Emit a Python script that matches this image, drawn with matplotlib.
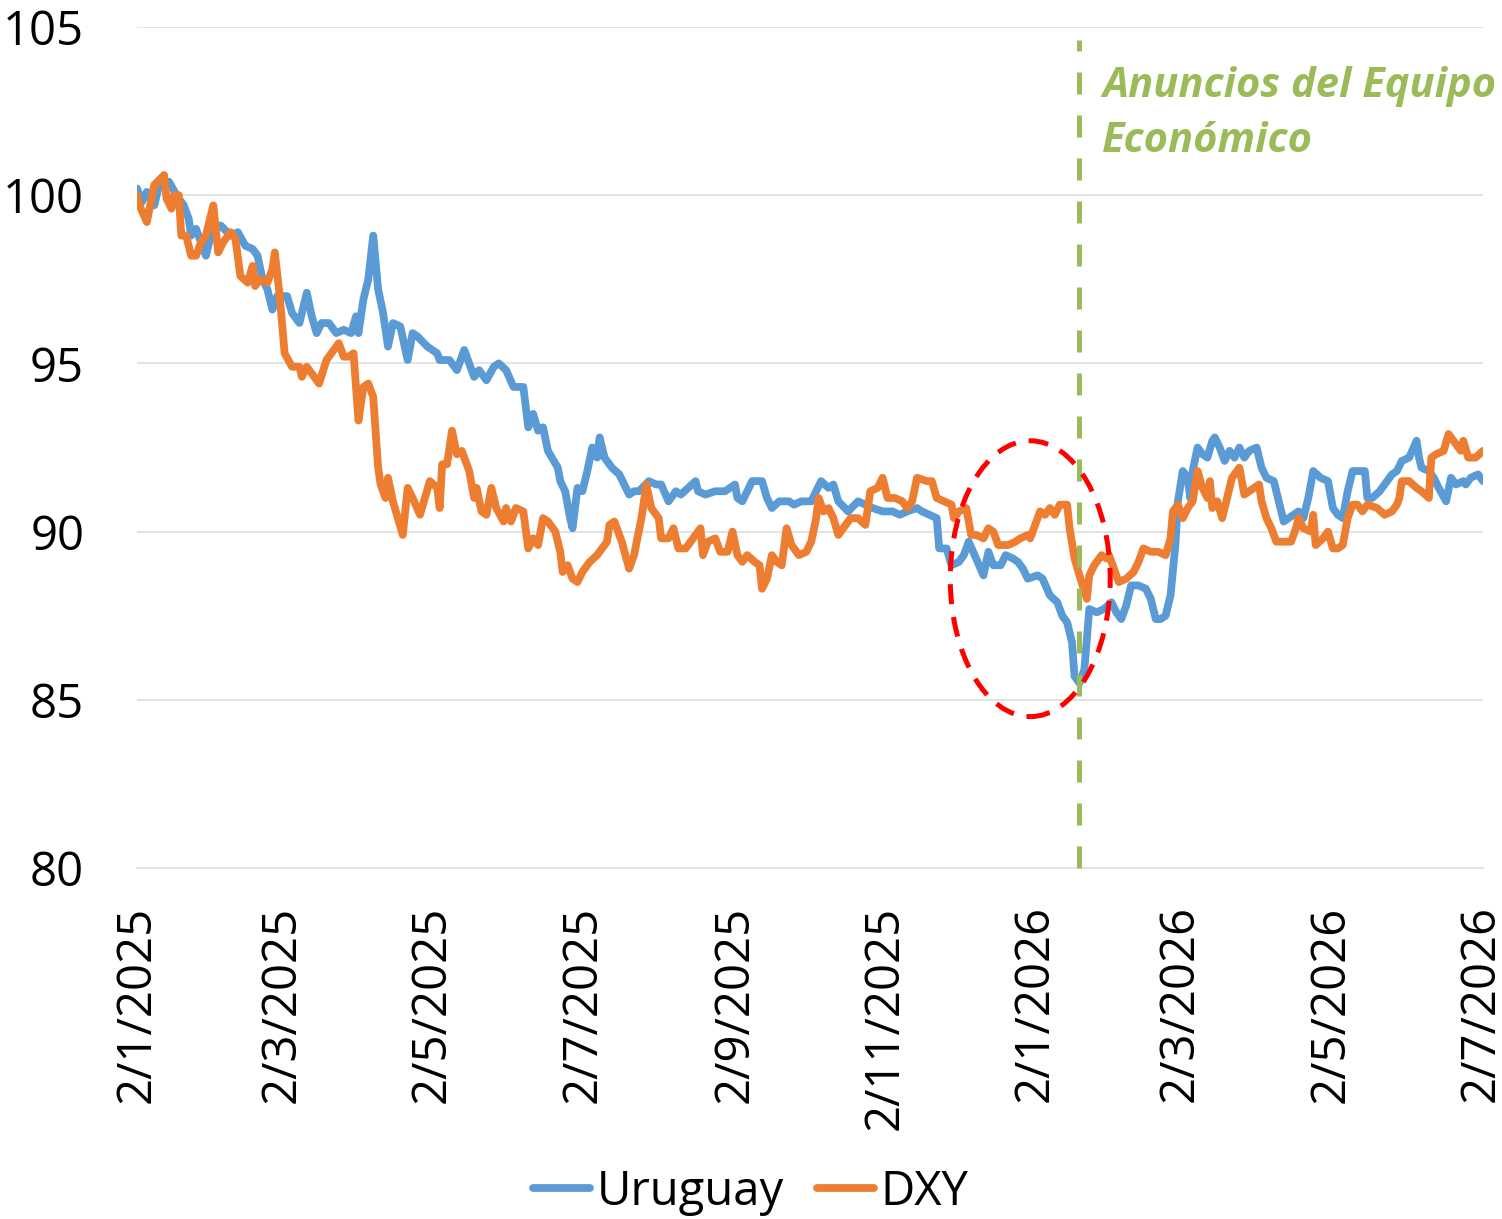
import matplotlib
matplotlib.use('Agg')
import matplotlib.pyplot as plt
import matplotlib.dates as mdates
from matplotlib.patches import Ellipse
import pandas as pd

plt.rcParams['font.family'] = ['Open Sans', 'DejaVu Sans']

# ---------------- data ----------------
start_date = '2025-01-02'   # day 0 of the series

uy_day = [0, 2, 4, 7, 9, 13, 16, 19, 21, 22, 24, 26, 28, 30, 34, 38, 41, 44, 47, 49,
          51, 53, 55, 57, 61, 63, 66, 69, 71, 73, 75, 78, 81, 84, 87, 89, 90, 92, 94, 96,
          98, 100, 102, 104, 107, 110, 112, 114, 118, 122, 123, 127, 130, 133, 137, 139, 142, 145, 147, 150,
          153, 157, 159, 161, 163, 165, 167, 171, 172, 174, 176, 177, 179, 181, 183, 185, 187, 188, 190, 193,
          196, 198, 200, 202, 204, 208, 211, 213, 216, 219, 221, 224, 227, 228, 231, 235, 239, 241, 243, 244,
          246, 248, 250, 254, 256, 258, 261, 265, 267, 270, 274, 276, 278, 281, 283, 285, 289, 293, 296, 299,
          303, 307, 310, 313, 317, 319, 322, 325, 326, 329, 331, 334, 336, 338, 341, 344, 346, 348, 351, 353,
          356, 358, 360, 362, 366, 368, 371, 374, 376, 378, 380, 381, 383, 385, 386, 387, 390, 393, 396, 398,
          400, 402, 404, 407, 410, 412, 414, 416, 418, 420, 422, 423, 425, 427, 428, 429, 431, 433, 435, 437,
          438, 440, 442, 444, 446, 448, 450, 452, 455, 457, 459, 462, 464, 466, 468, 470, 472, 474, 476, 478,
          481, 484, 486, 488, 490, 492, 494, 497, 499, 500, 502, 505, 508, 510, 512, 514, 517, 520, 521, 522,
          525, 527, 529, 532, 534, 536, 539, 540, 542, 545, 547]
uy_val = [100.2, 99.8, 100.1, 99.7, 100.3, 100.4, 100.0, 99.7, 99.3, 98.8, 99.0, 98.6, 98.2, 98.8, 99.1, 98.8, 98.9, 98.5, 98.4, 98.2,
          97.5, 97.2, 96.6, 97.0, 97.0, 96.5, 96.2, 97.1, 96.4, 95.9, 96.2, 96.2, 95.9, 96.0, 95.9, 96.4, 95.9, 96.9, 97.5, 98.8,
          97.2, 96.5, 95.5, 96.2, 96.1, 95.1, 95.9, 95.8, 95.5, 95.3, 95.1, 95.1, 94.8, 95.4, 94.6, 94.8, 94.5, 94.9, 95.0, 94.8,
          94.3, 94.3, 93.1, 93.5, 93.0, 93.1, 92.4, 91.9, 91.5, 91.2, 90.4, 90.1, 91.3, 91.2, 91.8, 92.5, 92.2, 92.8, 92.2, 91.9,
          91.7, 91.4, 91.1, 91.2, 91.2, 91.5, 91.4, 91.4, 90.9, 91.2, 91.1, 91.3, 91.5, 91.2, 91.1, 91.2, 91.2, 91.3, 91.4, 91.0,
          90.9, 91.2, 91.5, 91.5, 91.0, 90.7, 90.9, 90.9, 90.8, 90.9, 90.9, 91.2, 91.5, 91.3, 91.4, 90.9, 90.6, 90.9, 90.8, 90.7,
          90.6, 90.6, 90.5, 90.6, 90.7, 90.6, 90.5, 90.4, 89.5, 89.5, 89.0, 89.1, 89.3, 89.7, 89.2, 88.7, 89.4, 89.0, 89.0, 89.3,
          89.2, 89.1, 88.9, 88.6, 88.7, 88.6, 88.1, 87.9, 87.5, 87.3, 86.7, 85.7, 85.5, 85.9, 86.8, 87.7, 87.6, 87.7, 87.9, 87.6,
          87.4, 87.8, 88.4, 88.4, 88.3, 88.0, 87.4, 87.4, 87.5, 88.1, 89.6, 90.9, 91.8, 91.6, 91.0, 91.8, 92.5, 92.3, 92.2, 92.7,
          92.8, 92.5, 92.1, 92.4, 92.2, 92.5, 92.2, 92.4, 92.5, 91.9, 91.6, 91.5, 90.9, 90.3, 90.4, 90.5, 90.6, 90.4, 91.0, 91.8,
          91.6, 91.5, 90.7, 90.5, 90.4, 91.2, 91.8, 91.8, 91.8, 91.0, 91.0, 91.2, 91.5, 91.7, 91.8, 92.1, 92.2, 92.7, 92.2, 91.9,
          91.8, 91.6, 91.3, 90.9, 91.6, 91.4, 91.5, 91.4, 91.6, 91.7, 91.5]

dxy_day = [0, 1, 4, 7, 11, 12, 14, 15, 17, 18, 20, 22, 24, 26, 28, 29, 31, 33, 35, 38,
           40, 42, 45, 47, 48, 50, 53, 55, 56, 58, 60, 63, 66, 67, 69, 72, 74, 77, 79, 82,
           84, 86, 88, 90, 92, 94, 96, 98, 99, 101, 102, 104, 106, 108, 110, 112, 115, 119, 122, 123,
           124, 126, 128, 130, 132, 135, 137, 138, 140, 142, 144, 146, 149, 150, 152, 154, 157, 159, 161, 163,
           165, 167, 170, 172, 173, 175, 177, 179, 181, 184, 187, 189, 191, 192, 194, 197, 200, 202, 205, 207,
           209, 212, 213, 216, 218, 220, 223, 226, 229, 230, 232, 235, 237, 240, 242, 244, 246, 248, 251, 253,
           254, 256, 258, 260, 262, 264, 266, 269, 272, 274, 276, 277, 279, 281, 283, 285, 287, 290, 293, 296,
           298, 301, 303, 305, 308, 311, 313, 315, 317, 321, 323, 325, 328, 331, 332, 334, 337, 339, 341, 344,
           346, 348, 350, 354, 357, 359, 362, 363, 365, 367, 369, 371, 373, 375, 378, 379, 381, 383, 386, 387,
           389, 392, 394, 395, 397, 399, 402, 405, 407, 409, 412, 415, 418, 420, 421, 423, 425, 427, 429, 431,
           433, 435, 436, 437, 439, 441, 443, 445, 448, 450, 452, 456, 457, 459, 461, 463, 466, 469, 471, 472,
           474, 477, 478, 479, 482, 484, 486, 488, 490, 492, 494, 496, 498, 500, 504, 507, 510, 512, 513, 514,
           517, 520, 522, 525, 526, 528, 531, 533, 536, 538, 539, 541, 544, 547]
dxy_val = [100.0, 99.7, 99.2, 100.3, 100.6, 99.9, 99.6, 100.0, 100.0, 98.8, 98.8, 98.2, 98.2, 98.6, 98.8, 99.1, 99.7, 98.3, 98.6, 98.9,
           98.7, 97.6, 97.4, 97.9, 97.3, 97.5, 97.4, 97.8, 98.3, 97.0, 95.3, 94.9, 94.9, 94.6, 94.9, 94.6, 94.4, 95.1, 95.3, 95.6,
           95.2, 95.2, 95.3, 93.3, 94.3, 94.4, 94.0, 91.9, 91.4, 91.0, 91.6, 90.9, 90.4, 89.9, 91.3, 91.0, 90.5, 91.5, 91.3, 90.7,
           92.0, 92.0, 93.0, 92.3, 92.4, 91.8, 91.0, 91.3, 90.6, 90.5, 91.3, 90.7, 90.3, 90.7, 90.3, 90.7, 90.6, 89.5, 89.8, 89.6,
           90.4, 90.3, 90.0, 89.4, 88.8, 89.0, 88.6, 88.5, 88.8, 89.1, 89.3, 89.5, 89.7, 90.2, 90.3, 89.7, 88.9, 89.3, 90.4, 91.4,
           90.7, 90.4, 89.8, 89.8, 90.1, 89.5, 89.5, 89.8, 90.1, 89.3, 89.7, 89.8, 89.4, 89.4, 90.0, 89.3, 89.1, 89.3, 89.1, 89.0,
           88.3, 88.6, 89.3, 89.1, 89.0, 90.1, 89.6, 89.3, 89.4, 89.7, 90.4, 91.0, 90.6, 90.7, 90.4, 89.9, 90.1, 90.4, 90.4, 90.2,
           91.2, 91.3, 91.6, 91.0, 91.0, 90.9, 90.7, 90.9, 91.6, 91.5, 91.5, 91.0, 90.9, 90.8, 90.4, 90.6, 90.7, 89.9, 89.9, 89.8,
           90.1, 90.0, 89.6, 89.6, 89.7, 89.8, 89.9, 89.8, 90.2, 90.6, 90.5, 90.7, 90.5, 90.8, 90.8, 90.1, 89.2, 88.7, 88.0, 88.7,
           89.0, 89.3, 89.2, 89.3, 88.9, 88.5, 88.6, 88.8, 89.1, 89.5, 89.4, 89.4, 89.3, 89.8, 90.6, 90.8, 90.4, 90.7, 90.9, 91.8,
           91.3, 91.0, 91.5, 90.7, 90.9, 90.4, 91.0, 91.6, 91.9, 91.1, 91.2, 91.4, 90.9, 90.4, 90.1, 89.7, 89.7, 89.7, 90.1, 90.4,
           90.1, 90.0, 90.5, 89.6, 89.8, 90.0, 89.5, 89.5, 89.6, 90.4, 90.8, 90.8, 90.6, 90.8, 90.7, 90.5, 90.6, 90.8, 91.0, 91.5,
           91.5, 91.3, 91.2, 91.0, 92.2, 92.3, 92.4, 92.9, 92.6, 92.4, 92.7, 92.2, 92.2, 92.4]

series_names = ['Uruguay', 'DXY']
tick_labels = ['2/1/2025', '2/3/2025', '2/5/2025', '2/7/2025', '2/9/2025',
               '2/11/2025', '2/1/2026', '2/3/2026', '2/5/2026', '2/7/2026']
y_ticks = [80, 85, 90, 95, 100, 105]

event_date = '2026-01-20'
event_label = 'Anuncios del Equipo\nEconómico'

# highlighted period (red ellipse): centre date, centre value, span in days and value units
circle_center_date = '2025-12-31'
circle_center_val = 88.6
circle_span_days = 65
circle_span_val = 8.2

# ---------------- styles ----------------
c_uy = '#5B9BD5'
c_dxy = '#ED7D31'
c_event = '#9BBB59'
c_circle = '#FF0000'
grid_c = '#E3E3E3'
fs = 34

W, H = 1502, 1219
fig = plt.figure(figsize=(W / 100, H / 100), dpi=100)
ax = fig.add_axes([137 / W, 1 - 868 / H, (1483 - 137) / W, (868 - 27) / H])

t0 = pd.Timestamp(start_date)
uy_x = mdates.date2num([t0 + pd.Timedelta(days=d) for d in uy_day])
dxy_x = mdates.date2num([t0 + pd.Timedelta(days=d) for d in dxy_day])

ax.plot(uy_x, uy_val, color=c_uy, lw=5.6, solid_joinstyle='round', solid_capstyle='round',
        label=series_names[0], zorder=3)
ax.plot(dxy_x, dxy_val, color=c_dxy, lw=5.6, solid_joinstyle='round', solid_capstyle='round',
        label=series_names[1], zorder=4)

x0 = mdates.date2num(t0)
ax.set_xlim(x0, x0 + 547)
ax.set_ylim(y_ticks[0], y_ticks[-1])

ticks = mdates.date2num([pd.to_datetime(s, format='%d/%m/%Y') for s in tick_labels])
ax.set_xticks(ticks)
ax.set_xticklabels(tick_labels, rotation=90, fontsize=fs, va='top', ha='center')
ax.set_yticks(y_ticks)
ax.set_yticklabels([str(v) for v in y_ticks], fontsize=fs)
ax.tick_params(axis='x', length=0, pad=27)
ax.tick_params(axis='y', length=0, pad=38)

for s in ['top', 'right', 'left']:
    ax.spines[s].set_visible(False)
ax.spines['bottom'].set_color(grid_c)
ax.spines['bottom'].set_linewidth(1.4)
ax.yaxis.grid(True, color=grid_c, lw=1.4)
ax.set_axisbelow(True)

# event line
ev = mdates.date2num(pd.Timestamp(event_date))
ax.plot([ev, ev], [y_ticks[0], 104.6], color=c_event, lw=3.6, ls=(0, (4.4, 4.2)),
        clip_on=False, zorder=5)
ax.text(ev + 9.2, 103.85, event_label, color=c_event, fontsize=30, fontweight='bold',
        style='italic', ha='left', va='top', linespacing=1.45, zorder=6)

# highlight ellipse
cc = mdates.date2num(pd.Timestamp(circle_center_date))
ell = Ellipse((cc, circle_center_val), circle_span_days, circle_span_val, fill=False,
              edgecolor=c_circle, lw=3.6, ls=(0, (4, 2.6)), zorder=6)
ax.add_patch(ell)

fig.legend(loc='center', bbox_to_anchor=(0.5, 1 - 1192 / H), ncol=2, frameon=False,
           fontsize=fs, handlelength=1.2, handletextpad=0.15, columnspacing=0.7)

fig.savefig('out.png', dpi=100)
